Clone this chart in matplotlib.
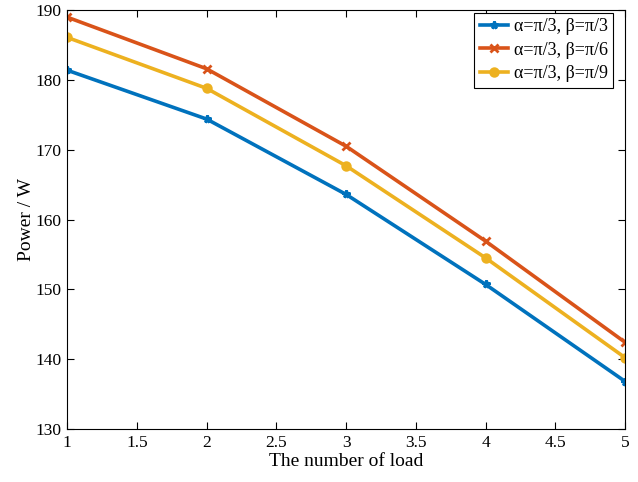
import matplotlib
matplotlib.use('Agg')
import matplotlib.pyplot as plt
import numpy as np

# number of load
loads = [1, 2, 3, 4, 5]

# power values (W)
p_beta3 = [181.4, 174.4, 163.6, 150.7, 136.8]
p_beta6 = [189.0, 181.6, 170.5, 156.9, 142.4]
p_beta9 = [186.1, 178.8, 167.7, 154.5, 140.2]

labels = ['α=π/3, β=π/3', 'α=π/3, β=π/6', 'α=π/3, β=π/9']
colors = ['#0072BD', '#D95319', '#EDB120']
markers = ['*', 'x', 'o']

plt.rcParams['font.family'] = ['Liberation Serif', 'DejaVu Serif']

fig = plt.figure(figsize=(6.38, 4.82), dpi=100)
ax = fig.add_axes([0.105, 0.110, 0.875, 0.869])

for y, lab, c, m in zip([p_beta3, p_beta6, p_beta9], labels, colors, markers):
    ax.plot(loads, y, color=c, marker=m, lw=2.6, ms=5.5, mew=2, label=lab)

ax.set_xlim(1, 5)
ax.set_ylim(130, 190)
ax.set_xticks(np.arange(1, 5.01, 0.5))
ax.set_xticklabels(['1', '1.5', '2', '2.5', '3', '3.5', '4', '4.5', '5'])
ax.set_yticks(np.arange(130, 191, 10))
ax.tick_params(direction='in', top=True, right=True, length=5, width=0.8,
               labelsize=12.5, pad=4)
for s in ax.spines.values():
    s.set_linewidth(0.8)

ax.set_xlabel('The number of load', fontsize=14, labelpad=2)
ax.set_ylabel('Power / W', fontsize=14, labelpad=0)

leg = ax.legend(loc='upper right', bbox_to_anchor=(0.9785, 0.993),
                fancybox=False, edgecolor='black', framealpha=1, fontsize=13,
                handlelength=1.6, borderpad=0.3, labelspacing=0.35,
                handletextpad=0.3, borderaxespad=0)
leg.get_frame().set_linewidth(0.8)

fig.savefig('out.png', dpi=100)
